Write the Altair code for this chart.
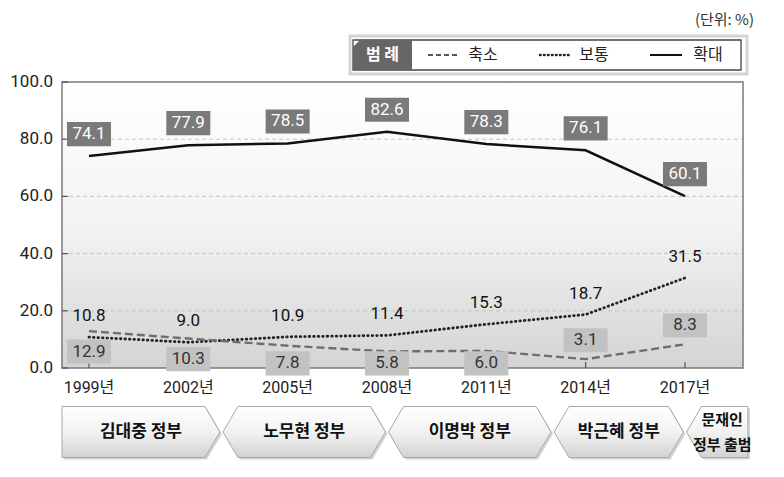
import altair as alt
import pandas as pd

# ---------------- data ----------------
years = [1999, 2002, 2005, 2008, 2011, 2014, 2017]
expand = [74.1, 77.9, 78.5, 82.6, 78.3, 76.1, 60.1]   # 확대
normal = [10.8, 9.0, 10.9, 11.4, 15.3, 18.7, 31.5]    # 보통
shrink = [12.9, 10.3, 7.8, 5.8, 6.0, 3.1, 8.3]        # 축소
series_names = ["축소", "보통", "확대"]
year_suffix = "년"
y_ticks = [0, 20, 40, 60, 80, 100]
grid_vals = [20, 40, 60, 80]
gov_names = ["김대중 정부", "노무현 정부", "이명박 정부", "박근혜 정부", "문재인\n정부 출범"]
gov_bounds = [1998.185, 2003, 2008, 2013, 2017, 2018.9]
unit_label = "(단위:  %)"
legend_title = "범 례"

# ---------------- layout ----------------
W, H = 681, 286
XDOM = [1998.185, 2018.752]
PXY = W / (XDOM[1] - XDOM[0])
NUM_FONT = "Roboto, 'Noto Sans CJK KR', sans-serif"
KR_FONT = "'Noto Sans CJK KR', sans-serif"

df = pd.DataFrame({
    "year": years * 3,
    "value": shrink + normal + expand,
    "series": [series_names[0]] * 7 + [series_names[1]] * 7 + [series_names[2]] * 7,
})
one = pd.DataFrame({"a": [0]})
grid_df = pd.DataFrame({"v": grid_vals})
ytick_df = pd.DataFrame({"v": y_ticks})
year_df = pd.DataFrame({"year": years, "label": [f"{y}{year_suffix}" for y in years]})

xscale = alt.Scale(domain=XDOM, nice=False, zero=False)
yscale = alt.Scale(domain=[0, 100], nice=False, zero=True)
xl = alt.X("year:Q", scale=xscale, axis=None)
yv = alt.Y("value:Q", scale=yscale, axis=None)

layers = []

# plot background gradient
bg_grad = alt.Gradient(gradient="linear", stops=[
    alt.GradientStop(color="#ffffff", offset=0),
    alt.GradientStop(color="#f3f3f3", offset=0.5),
    alt.GradientStop(color="#d4d4d4", offset=1)], x1=0, x2=0, y1=0, y2=1)
layers.append(alt.Chart(one).mark_rect(fill=bg_grad).encode(
    x=alt.value(0), x2=alt.value(W), y=alt.value(0), y2=alt.value(H)))

# grid
layers.append(alt.Chart(grid_df).mark_rule(color="#c4c4c4", strokeDash=[4, 3], strokeWidth=1).encode(
    y=alt.Y("v:Q", scale=yscale, axis=None), x=alt.value(0), x2=alt.value(W)))

# frame
layers.append(alt.Chart(one).mark_rect(fillOpacity=0, stroke="#7a7a7a", strokeWidth=1.5).encode(
    x=alt.value(0), x2=alt.value(W), y=alt.value(0), y2=alt.value(H)))

# inward ticks
layers.append(alt.Chart(ytick_df).mark_rule(color="#555", strokeWidth=1.2).encode(
    y=alt.Y("v:Q", scale=yscale, axis=None), x=alt.value(0), x2=alt.value(6)))
layers.append(alt.Chart(year_df).mark_rule(color="#555", strokeWidth=1.2).encode(
    x=xl, y=alt.value(H), y2=alt.value(H - 6)))

# axis labels
layers.append(alt.Chart(ytick_df).mark_text(align="right", baseline="middle", fontSize=17,
                                            font=NUM_FONT, color="#222").encode(
    y=alt.Y("v:Q", scale=yscale, axis=None), x=alt.value(-9),
    text=alt.Text("v:Q", format=".1f")))
layers.append(alt.Chart(year_df).mark_text(align="center", baseline="middle", fontSize=16,
                                           font=NUM_FONT, color="#222").encode(
    x=xl, y=alt.value(H + 20), text="label:N"))

# lines
base = alt.Chart(df)
layers.append(base.transform_filter(alt.datum.series == series_names[2]).mark_line(
    color="#111", strokeWidth=2.5).encode(x=xl, y=yv))
layers.append(base.transform_filter(alt.datum.series == series_names[1]).mark_line(
    color="#222", strokeWidth=2.8, strokeDash=[0.5, 4], strokeCap="round").encode(x=xl, y=yv))
layers.append(base.transform_filter(alt.datum.series == series_names[0]).mark_line(
    color="#6e6e6e", strokeWidth=2.4, strokeDash=[8, 4]).encode(x=xl, y=yv))

BOX = "M-1,-0.55H1V0.55H-1Z"

# 확대 labels
ex = base.transform_filter(alt.datum.series == series_names[2])
layers.append(ex.mark_point(shape=BOX, size=44 * 44, filled=True, fill="#7a7a7a", opacity=1,
                            strokeWidth=0, yOffset=-22).encode(x=xl, y=yv))
layers.append(ex.mark_text(color="white", fontSize=17, font=NUM_FONT, yOffset=-22, baseline="middle").encode(
    x=xl, y=yv, text=alt.Text("value:Q", format=".1f")))

# 보통 labels
nm = base.transform_filter(alt.datum.series == series_names[1])
layers.append(nm.mark_text(color="#111", fontSize=17, font=NUM_FONT, yOffset=-21, baseline="middle").encode(
    x=xl, y=yv, text=alt.Text("value:Q", format=".1f")))

# 축소 labels
sh = base.transform_filter(alt.datum.series == series_names[0]).transform_calculate(
    ly="datum.year >= 2014 ? datum.value + 6.6 : max(datum.value - 7.2, 1.6)")
ly = alt.Y("ly:Q", scale=yscale, axis=None)
layers.append(sh.mark_point(shape=BOX, size=44 * 44, filled=True, fill="#c2c2c2", opacity=1,
                            strokeWidth=0).encode(x=xl, y=ly))
layers.append(sh.mark_text(color="#333", fontSize=17, font=NUM_FONT, baseline="middle").encode(
    x=xl, y=ly, text=alt.Text("value:Q", format=".1f")))

# government chevrons
gov_grad = alt.Gradient(gradient="linear", stops=[
    alt.GradientStop(color="#ffffff", offset=0),
    alt.GradientStop(color="#f2f2f2", offset=0.5),
    alt.GradientStop(color="#d2d2d2", offset=1)], x1=0, x2=0, y1=0, y2=1)
GH = 51
GY = 350
DEPTH = 15
n = len(gov_names)
for i, name in enumerate(gov_names):
    left = gov_bounds[i] + (0 if i == 0 else 1.5 / PXY)
    right = gov_bounds[i + 1] - (0 if i == n - 1 else 1.5 / PXY)
    wpx = (right - left) * PXY
    h = GH / wpx
    dd = 2 * DEPTH / wpx
    if i == 0:
        pts = [(-1, -h), (1 - dd, -h), (1, 0), (1 - dd, h), (-1, h)]
    elif i == n - 1:
        pts = [(-1, 0), (-1 + dd, -h), (1, -h), (1, h), (-1 + dd, h)]
    else:
        pts = [(-1, 0), (-1 + dd, -h), (1 - dd, -h), (1, 0), (1 - dd, h), (-1 + dd, h)]
    path = "M" + "L".join(f"{px:.4f},{py:.4f}" for px, py in pts) + "Z"
    mid = (left + right) / 2
    xd = alt.XDatum(mid, scale=xscale, axis=None)
    layers.append(alt.Chart(one).mark_point(shape=path, size=wpx * wpx, filled=True, fill="#b0b0b0",
                                            opacity=0.55, strokeWidth=0, xOffset=2, yOffset=2).encode(
        x=xd, y=alt.value(GY)))
    layers.append(alt.Chart(one).mark_point(shape=path, size=wpx * wpx, filled=True, fill=gov_grad,
                                            opacity=1, stroke="#a8a8a8", strokeWidth=1).encode(
        x=xd, y=alt.value(GY)))
    last = (i == n - 1)
    layers.append(alt.Chart(one).mark_text(text=name, lineBreak="\n", fontSize=15 if last else 17,
                                           fontWeight="bold", font=KR_FONT, color="#111",
                                           baseline="middle", lineHeight=25,
                                           dx=5 if last else 0).encode(
        x=xd, y=alt.value(GY - 12 if last else GY)))

# legend box
layers.append(alt.Chart(one).mark_rect(fill="white", stroke="#d4d4d4", strokeWidth=3).encode(
    x=alt.value(288), x2=alt.value(685), y=alt.value(-46), y2=alt.value(-8)))
layers.append(alt.Chart(one).mark_rect(fill="white", stroke="#444", strokeWidth=1.3).encode(
    x=alt.value(291), x2=alt.value(679), y=alt.value(-42), y2=alt.value(-12)))
lw, lh, lc = 59, 30, 7
hh = lh / lw
cc = 2 * lc / lw
lpath = f"M{-1 + cc:.4f},{-hh:.4f}L1,{-hh:.4f}L1,{hh:.4f}L-1,{hh:.4f}L-1,{-hh + cc:.4f}Z"
layers.append(alt.Chart(one).mark_point(shape=lpath, size=lw * lw, filled=True, fill="#666",
                                        opacity=1, strokeWidth=0).encode(
    x=alt.value(320.5), y=alt.value(-27)))
layers.append(alt.Chart(one).mark_text(text=legend_title, color="white", fontSize=16, fontWeight="bold",
                                       font=KR_FONT, baseline="middle").encode(
    x=alt.value(320.5), y=alt.value(-27)))
layers.append(alt.Chart(one).mark_rule(color="#555", strokeWidth=2, strokeDash=[5, 3]).encode(
    x=alt.value(366), x2=alt.value(396), y=alt.value(-27)))
layers.append(alt.Chart(one).mark_rule(color="#222", strokeWidth=2.6, strokeDash=[0.5, 3.5],
                                       strokeCap="round").encode(
    x=alt.value(478), x2=alt.value(508), y=alt.value(-27)))
layers.append(alt.Chart(one).mark_rule(color="#111", strokeWidth=2).encode(
    x=alt.value(588), x2=alt.value(620), y=alt.value(-27)))
for name, cx in zip(series_names, [421, 532, 646]):
    layers.append(alt.Chart(one).mark_text(text=name, color="#222", fontSize=16, font=KR_FONT,
                                           baseline="middle").encode(
        x=alt.value(cx), y=alt.value(-27)))

# unit label
layers.append(alt.Chart(one).mark_text(text=unit_label, color="#333", fontSize=15, font=KR_FONT,
                                       align="right", baseline="middle").encode(
    x=alt.value(692), y=alt.value(-62)))

chart = alt.layer(*layers).properties(
    width=W, height=H,
    autosize=alt.AutoSizeParams(type="none"),
    padding={"left": 54, "top": 74, "right": 33, "bottom": 101},
    background="white",
).configure_view(strokeWidth=0)

chart.save("out.html", embed_options={"renderer": "svg", "actions": False})
